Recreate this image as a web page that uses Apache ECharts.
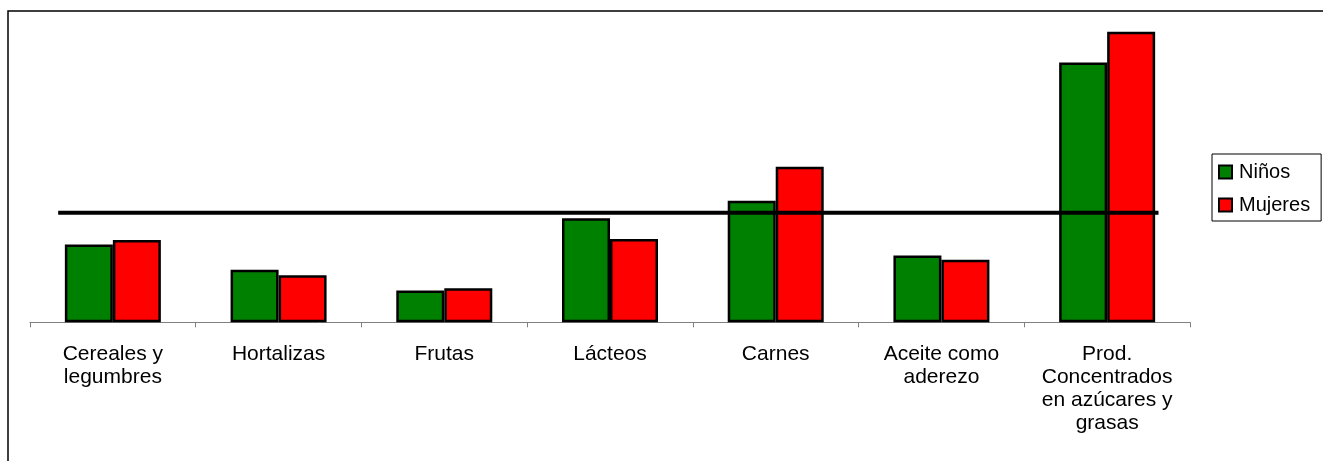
<!DOCTYPE html>
<html>
<head>
<meta charset="utf-8">
<script src="https://cdn.jsdelivr.net/npm/echarts@6/dist/echarts.min.js"></script>
<style>
  html, body { margin: 0; padding: 0; background: #fff; }
  #chart { width: 1323px; height: 461px; }
</style>
</head>
<body>
<div id="chart"></div>
<script>
// Food groups along the category axis
const categories = [
  'Cereales y\nlegumbres',
  'Hortalizas',
  'Frutas',
  'Lácteos',
  'Carnes',
  'Aceite como\naderezo',
  'Prod.\nConcentrados\nen azúcares y\ngrasas'
];

// Adequacy per group (%)
const ninos   = [71, 48, 29, 95, 111, 61, 237];
const mujeres = [75, 43, 31, 76, 142, 57, 265];

// Recommended level, drawn as a horizontal reference
const referenceLevel = 100;
// Reach of the reference line, in category units along the axis
const referenceSpan = [0.17, 6.81];

const chart = echarts.init(document.getElementById('chart'));

const font = 'Liberation Sans, Arial, sans-serif';

chart.setOption({
  animation: false,
  backgroundColor: '#ffffff',
  textStyle: { fontFamily: font, color: '#000' },
  graphic: [{
    type: 'rect',
    shape: { x: 8, y: 11, width: 1400, height: 500 },
    style: { fill: 'none', stroke: '#000', lineWidth: 1.5 },
    silent: true,
    z: -10
  }],
  grid: { left: 30, right: 133, top: 15.4, bottom: 138.7 },
  legend: {
    orient: 'vertical',
    left: 1212,
    top: 154,
    padding: [8, 11, 6, 6],
    itemGap: 13,
    itemWidth: 13,
    itemHeight: 13,
    icon: 'rect',
    borderColor: '#000',
    borderWidth: 1,
    textStyle: { fontFamily: font, fontSize: 20, color: '#000', lineHeight: 20, padding: [0, 0, 0, 2] },
    data: ['Niños', 'Mujeres']
  },
  xAxis: [{
    type: 'category',
    data: categories,
    boundaryGap: true,
    axisLine: { lineStyle: { color: '#808080', width: 1 } },
    axisTick: { show: true, length: 5, lineStyle: { color: '#808080' } },
    axisLabel: {
      interval: 0,
      margin: 20,
      fontFamily: font,
      fontSize: 21,
      lineHeight: 23,
      color: '#000',
      align: 'center'
    },
    splitLine: { show: false }
  }, {
    // Hidden helper axis measuring positions in category units
    type: 'value',
    min: 0,
    max: categories.length,
    show: false
  }],
  yAxis: {
    type: 'value',
    min: 0,
    max: 280,
    show: false,
    splitLine: { show: false }
  },
  series: [{
    name: 'Niños',
    type: 'bar',
    data: ninos,
    barWidth: 48,
    barGap: '0%',
    itemStyle: { color: '#008000', borderColor: '#000', borderWidth: 2.5 },
    z: 2
  }, {
    name: 'Mujeres',
    type: 'bar',
    data: mujeres,
    barWidth: 48,
    barGap: '0%',
    itemStyle: { color: '#ff0000', borderColor: '#000', borderWidth: 2.5 },
    z: 2
  }, {
    name: 'Referencia',
    type: 'line',
    xAxisIndex: 1,
    data: referenceSpan.map(x => [x, referenceLevel]),
    symbol: 'none',
    lineStyle: { color: '#000', width: 4 },
    z: 5,
    silent: true
  }]
});
</script>
</body>
</html>
